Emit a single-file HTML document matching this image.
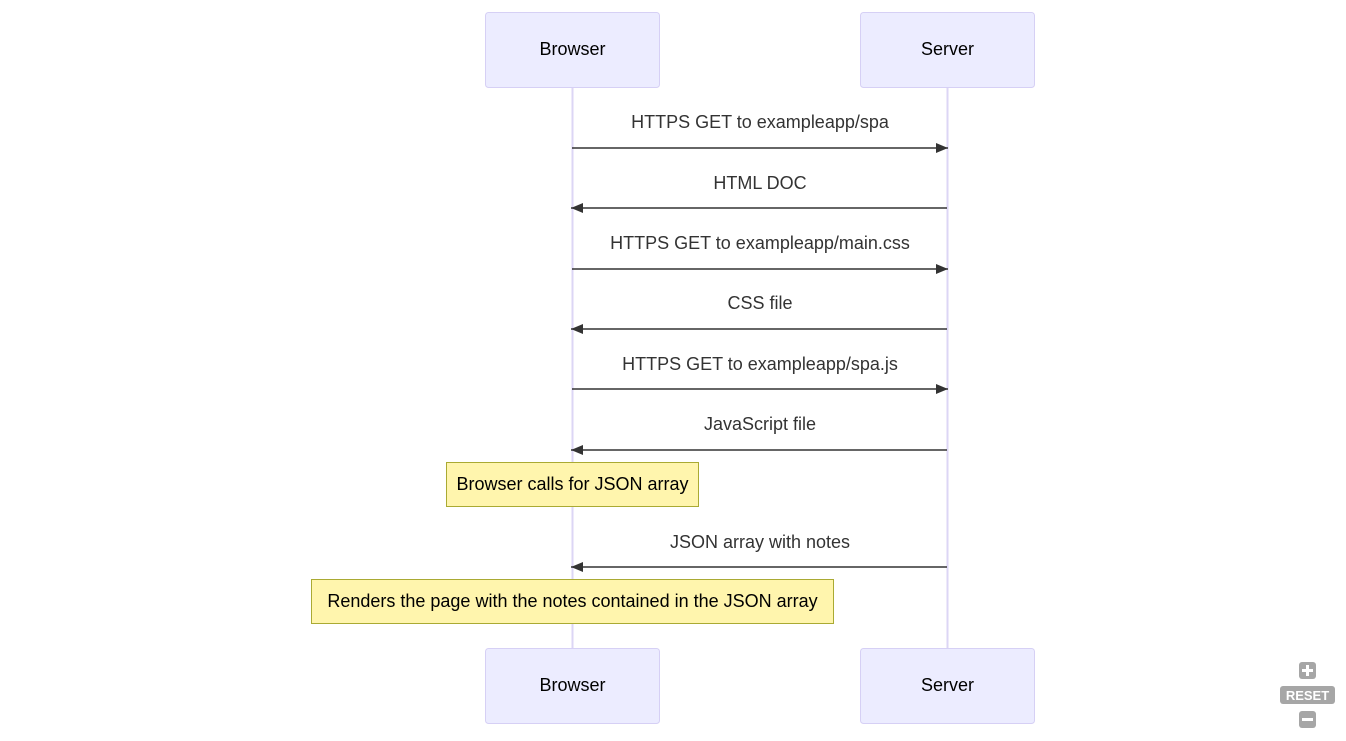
<!DOCTYPE html>
<html><head><meta charset="utf-8"><style>
body{margin:0;background:#fff;}
svg text{font-family:"Liberation Sans","DejaVu Sans",sans-serif;font-size:18px;}
</style></head><body>
<svg width="1346" height="736" viewBox="0 0 1346 736" xmlns="http://www.w3.org/2000/svg">
<defs><marker id="a" viewBox="0 0 12 10" refX="12" refY="5" markerUnits="userSpaceOnUse" markerWidth="12" markerHeight="10" orient="auto"><path d="M0,0L12,5L0,10z" fill="#333"/></marker></defs>
<line x1="572.5" y1="87" x2="572.5" y2="648" stroke="#dcd6f5" stroke-width="2"/>
<line x1="947.5" y1="87" x2="947.5" y2="648" stroke="#dcd6f5" stroke-width="2"/>
<g fill="#ececff" stroke="#d6d0f5" stroke-width="1">
<rect x="485.5" y="12.5" width="174" height="75" rx="3"/>
<rect x="860.5" y="12.5" width="174" height="75" rx="3"/>
<rect x="485.5" y="648.5" width="174" height="75" rx="3"/>
<rect x="860.5" y="648.5" width="174" height="75" rx="3"/>
</g>
<g text-anchor="middle" fill="#000">
<text x="572.5" y="55">Browser</text><text x="947.5" y="55">Server</text>
<text x="572.5" y="691">Browser</text><text x="947.5" y="691">Server</text>
</g>
<g stroke="#333" stroke-width="1.5" marker-end="url(#a)">
<line x1="572" y1="148" x2="948" y2="148"/>
<line x1="947" y1="208" x2="571" y2="208"/>
<line x1="572" y1="269" x2="948" y2="269"/>
<line x1="947" y1="329" x2="571" y2="329"/>
<line x1="572" y1="389" x2="948" y2="389"/>
<line x1="947" y1="450" x2="571" y2="450"/>
<line x1="947" y1="567" x2="571" y2="567"/>
</g>
<g text-anchor="middle" fill="#333">
<text x="760" y="128">HTTPS GET to exampleapp/spa</text>
<text x="760" y="189">HTML DOC</text>
<text x="760" y="249">HTTPS GET to exampleapp/main.css</text>
<text x="760" y="309">CSS file</text>
<text x="760" y="370">HTTPS GET to exampleapp/spa.js</text>
<text x="760" y="430">JavaScript file</text>
<text x="760" y="548">JSON array with notes</text>
</g>
<rect x="446.5" y="462.5" width="252" height="44" fill="#fff5ad" stroke="#aaaa33"/>
<text x="572.5" y="490" text-anchor="middle" fill="#000">Browser calls for JSON array</text>
<rect x="311.5" y="579.5" width="522" height="44" fill="#fff5ad" stroke="#aaaa33"/>
<text x="572.5" y="607" text-anchor="middle" fill="#000">Renders the page with the notes contained in the JSON array</text>
<g fill="#a6a6a6">
<rect x="1299" y="662" width="17" height="17" rx="3"/>
<rect x="1280" y="686" width="55" height="18" rx="3"/>
<rect x="1299" y="711" width="17" height="17" rx="3"/>
</g>
<g fill="#fff">
<rect x="1302" y="669" width="11" height="3"/><rect x="1306" y="665" width="3" height="11"/>
<rect x="1302" y="718" width="11" height="3"/>
</g>
<text x="1307.5" y="700" text-anchor="middle" fill="#fff" style="font-size:13px;font-weight:bold">RESET</text>
</svg>
</body></html>
